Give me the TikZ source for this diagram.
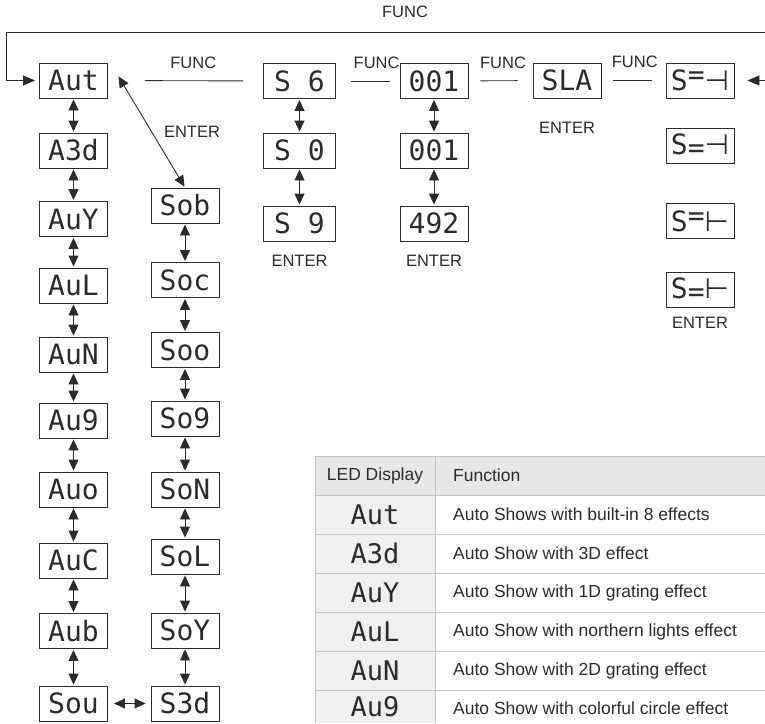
\documentclass[tikz,border=0pt]{standalone}
\usepackage{fontspec}
\setmainfont{Liberation Sans}
\newfontfamily\ledfont{DejaVu Sans Mono}
\newfontfamily\ledsym{DejaVu Sans}
\usetikzlibrary{arrows.meta,positioning}
\definecolor{ink}{HTML}{2B2B2B}
\definecolor{gridgray}{HTML}{C4C4C4}
\definecolor{headgray}{HTML}{E6E7E9}
\definecolor{cellgray}{HTML}{EFEFEF}

\begin{document}
\begin{tikzpicture}[x=1pt,y=-1pt,
	led/.style={draw=ink, line width=0.9pt, minimum width=68pt, minimum height=35pt, inner sep=0pt, text=ink, font=\ledfont\fontsize{28}{28}\selectfont},
	wideled/.style={led, minimum width=72pt},
	lbl/.style={inner sep=1pt, text=ink, font=\fontsize{16.5}{18}\selectfont},
	cell/.style={inner sep=1pt, text=ink, font=\fontsize{17.5}{19}\selectfont},
	cellled/.style={inner sep=0pt, text=ink, font=\ledfont\fontsize{27}{27}\selectfont},
	link/.style={draw=ink, line width=0.9pt},
	dbl/.style={link, {Triangle[length=11pt,width=10pt]}-{Triangle[length=11pt,width=10pt]}, shorten <=1pt, shorten >=1pt},
	sgl/.style={link, -{Triangle[length=12pt,width=10pt]}}
	]
	\useasboundingbox (0,0) rectangle (765,723);

	% left column
	\node[led] (aut) at (73.5,80.5) {Aut};
	\node[led] (a3d) at (73.5,150.5) {A3d};
	\node[led] (auy) at (73.5,219) {AuY};
	\node[led] (aul) at (73.5,285.5) {AuL};
	\node[led] (aun) at (73.5,354.5) {AuN};
	\node[led] (au9) at (73.5,420.5) {Au9};
	\node[led] (auo) at (73.5,489.5) {Auo};
	\node[led] (auc) at (73.5,560.5) {AuC};
	\node[led] (aub) at (73.5,631) {Aub};
	\node[led] (sou) at (73.5,703.5) {Sou};

	% second column
	\node[led] (sob) at (185,205.5) {Sob};
	\node[led] (soc) at (185,280) {Soc};
	\node[led] (soo) at (185,350) {Soo};
	\node[led] (so9) at (185,418.5) {So9};
	\node[led] (son) at (185,489.5) {SoN};
	\node[led] (sol) at (185,556.5) {SoL};
	\node[led] (soy) at (185,630.5) {SoY};
	\node[led] (s3d) at (185,703.5) {S3d};

	% top row
	\node[wideled] (s6) at (299.5,81) {S 6};
	\node[wideled] (s0) at (299.5,150.5) {S 0};
	\node[wideled] (s9) at (299.5,223.5) {S 9};
	\node[led] (na) at (434,81) {001};
	\node[led] (nb) at (434,150.5) {001};
	\node[led] (nc) at (434,223.5) {492};
	\node[led] (sla) at (567,80.5) {SLA};
	\node[led] (sxa) at (700,80.5) {S\raisebox{6pt}{=}{\ledsym ⊣}};
	\node[led] (sxb) at (700,145.5) {S\raisebox{-3pt}{=}{\ledsym ⊣}};
	\node[led] (sxc) at (700,221) {S\raisebox{6pt}{=}{\ledsym ⊢}};
	\node[led] (sxd) at (700,290) {S\raisebox{-3pt}{=}{\ledsym ⊢}};

	\node[lbl] (ftop) at (405,12) {FUNC};
	\node[lbl] (enta) at (192,132) {ENTER};
	\node[lbl, below=12pt of s9] (entb) {ENTER};
	\node[lbl, below=12pt of nc] (entc) {ENTER};
	\node[lbl, below=22pt of sla] (entd) {ENTER};
	\node[lbl, below=8pt of sxd] (ente) {ENTER};

	\draw[link, shorten <=37pt, shorten >=20pt] (aut) -- node[lbl, pos=0.55, above=11pt] (fa) {FUNC} (s6);
	\draw[link, shorten <=15pt, shorten >=10pt] (s6) -- node[lbl, pos=0.64, above=11pt] (fb) {FUNC} (na);
	\draw[link, shorten <=12pt, shorten >=15pt] (na) -- node[lbl, pos=0.54, above=11pt] (fc) {FUNC} (sla);
	\draw[link, shorten <=12pt, shorten >=14pt] (sla) -- node[lbl, pos=0.52, above=11pt] (fd) {FUNC} (sxa);

	\coordinate (loopR) at (765,32);
	\coordinate (inR) at (765,80.5);
	\draw[sgl, shorten >=4pt] (loopR) -| ([xshift=-33pt]aut.west) -- (aut.west);
	\draw[sgl, shorten >=13pt] (inR) -- (sxa.east);

	\draw[dbl] (aut) -- (a3d);
	\draw[dbl] (a3d) -- (auy);
	\draw[dbl] (auy) -- (aul);
	\draw[dbl] (aul) -- (aun);
	\draw[dbl] (aun) -- (au9);
	\draw[dbl] (au9) -- (auo);
	\draw[dbl] (auo) -- (auc);
	\draw[dbl] (auc) -- (aub);
	\draw[dbl] (aub) -- (sou);
	\draw[dbl] (sob) -- (soc);
	\draw[dbl] (soc) -- (soo);
	\draw[dbl] (soo) -- (so9);
	\draw[dbl] (so9) -- (son);
	\draw[dbl] (son) -- (sol);
	\draw[dbl] (sol) -- (soy);
	\draw[dbl] (soy) -- (s3d);
	\draw[dbl, shorten <=6pt, shorten >=5pt] (sou) -- (s3d);
	\draw[dbl] ([xshift=10pt,yshift=5pt]aut.east) -- (sob.north);
	\draw[dbl] (s6) -- (s0);
	\draw[dbl] (s0) -- (s9);
	\draw[dbl] (na) -- (nb);
	\draw[dbl] (nb) -- (nc);

	% table
	\fill[headgray] (315,456) rectangle (765,495);
	\fill[cellgray] (315,495) rectangle (435,723);
	\draw[gridgray, line width=1pt] (315,456) -- (765,456) (315,495) -- (765,495)
		(315,534) -- (765,534) (315,573) -- (765,573) (315,612) -- (765,612)
		(315,651) -- (765,651) (315,690) -- (765,690)
		(315,456) -- (315,723) (435,456) -- (435,723);
	\node[cell] (hled) at (375,475.5) {LED Display};
	\node[cell, anchor=west] (hfun) at (452,475.5) {Function};
	\node[cellled] (taut) at (375,514.5) {Aut};
	\node[cell, anchor=west] (daut) at (452,514.5) {Auto Shows with built-in 8 effects};
	\node[cellled] (ta3d) at (375,553.5) {A3d};
	\node[cell, anchor=west] (da3d) at (452,553.5) {Auto Show with 3D effect};
	\node[cellled] (tauy) at (375,592.5) {AuY};
	\node[cell, anchor=west] (dauy) at (452,592.5) {Auto Show with 1D grating effect};
	\node[cellled] (taul) at (375,631.5) {AuL};
	\node[cell, anchor=west] (daul) at (452,631.5) {Auto Show with northern lights effect};
	\node[cellled] (taun) at (375,670.5) {AuN};
	\node[cell, anchor=west] (daun) at (452,670.5) {Auto Show with 2D grating effect};
	\node[cellled] (tau9) at (375,706.5) {Au9};
	\node[cell, anchor=west] (dau9) at (452,708) {Auto Show with colorful circle effect};
\end{tikzpicture}
\end{document}
